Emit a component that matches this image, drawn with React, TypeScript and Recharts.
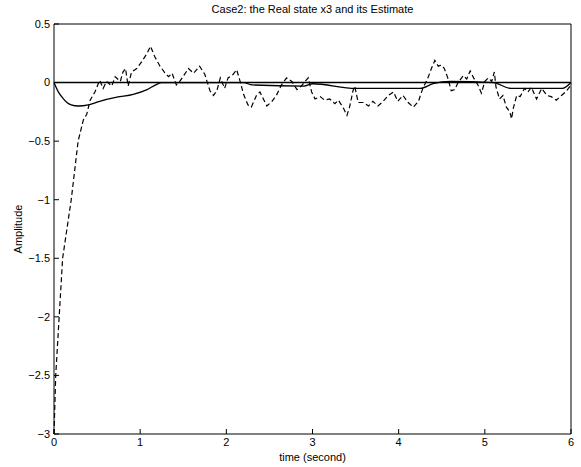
import { LineChart, Line, XAxis, YAxis, ReferenceLine } from 'recharts';

// estimate of x3 (dashed, noisy)
const estTime = [
  0, 0.02, 0.06, 0.1, 0.2, 0.28, 0.34, 0.38, 0.42, 0.475, 0.53, 0.57, 0.61, 0.67, 0.71, 0.77,
  0.8, 0.83, 0.86, 0.9, 0.96, 1.02, 1.08, 1.12, 1.17, 1.23, 1.29, 1.33, 1.37, 1.42, 1.46,
  1.56, 1.62, 1.69, 1.75, 1.81, 1.85, 1.89, 1.93, 1.98, 2.02, 2.08, 2.12, 2.16, 2.2, 2.25,
  2.29, 2.35, 2.39, 2.43, 2.47, 2.53, 2.58, 2.64, 2.7, 2.76, 2.82, 2.87, 2.95, 2.99, 3.03,
  3.09, 3.14, 3.2, 3.26, 3.3, 3.36, 3.4, 3.43, 3.47, 3.49, 3.53, 3.59, 3.65, 3.7, 3.76,
  3.82, 3.88, 3.94, 3.99, 4.05, 4.11, 4.17, 4.23, 4.28, 4.34, 4.38, 4.42, 4.46, 4.5, 4.53,
  4.57, 4.61, 4.65, 4.69, 4.75, 4.79, 4.83, 4.87, 4.92, 4.96, 5.0, 5.04, 5.08, 5.11, 5.13,
  5.17, 5.21, 5.25, 5.29, 5.31, 5.33, 5.37, 5.41, 5.46, 5.5, 5.54, 5.6, 5.66, 5.72, 5.77,
  5.83, 5.89, 5.95, 6.0,
];
const estValue = [
  -3, -2.5, -2.0, -1.5, -1.0, -0.5, -0.32, -0.27, -0.15, -0.08, 0.02, -0.05, 0.01, -0.03, 0.05, 0.01,
  0.09, 0.12, -0.03, 0.09, 0.12, 0.18, 0.25, 0.31, 0.22, 0.14, 0.08, 0.05, 0.08, -0.02, 0.01,
  0.12, 0.08, 0.14, 0.07, -0.07, -0.11, -0.07, 0.04, -0.05, 0.04, 0.07, 0.11, 0.01, -0.1, -0.19,
  -0.21, -0.11, -0.08, -0.14, -0.2, -0.16, -0.11, -0.02, 0.04, 0.01, -0.06, -0.03, 0.04, -0.08, -0.14,
  -0.12, -0.15, -0.14, -0.18, -0.15, -0.22, -0.28, -0.21, -0.07, -0.03, -0.17, -0.17, -0.2, -0.16, -0.2,
  -0.16, -0.11, -0.08, -0.16, -0.11, -0.17, -0.21, -0.16, -0.05, 0.04, 0.12, 0.19, 0.14, 0.15, 0.12,
  0.04, -0.07, -0.06, 0, 0.06, 0.03, 0.1, 0.04, -0.02, -0.09, 0.01, 0.04, 0.01, 0.09, -0.04,
  -0.14, -0.11, -0.21, -0.25, -0.31, -0.22, -0.11, -0.12, -0.05, -0.08, -0.04, -0.14, -0.05, -0.11, -0.12,
  -0.15, -0.11, -0.07, -0.02,
];

// real state x3 (solid, smooth)
const realTime = [
  0, 0.05, 0.1, 0.15, 0.2, 0.28, 0.4, 0.53, 0.73, 0.92, 1.08, 1.18, 1.25, 2.2, 2.3, 2.9, 3.0,
  3.5, 4.25, 4.4, 4.6, 5.1, 5.3, 5.9, 6.0,
];
const realValue = [
  0, -0.08, -0.13, -0.17, -0.19, -0.2, -0.19, -0.16, -0.125, -0.1, -0.06, -0.02, 0, 0, -0.02, -0.03, -0.01,
  -0.05, -0.05, -0.01, 0.01, 0, -0.05, -0.05, 0,
];

const xTicks = [0, 1, 2, 3, 4, 5, 6];
const yTicks = [-3, -2.5, -2, -1.5, -1, -0.5, 0, 0.5];

const estData = estTime.map((t, i) => ({ t, v: estValue[i] }));
const realData = realTime.map((t, i) => ({ t, v: realValue[i] }));

const FONT = '"Liberation Sans", Arial, sans-serif';
const tickStyle = { fontSize: 11, fill: '#000', fontFamily: FONT };
const fmt = (v: number) => String(v).replace('-', '\u2212');

export default function App() {
  return (
    <div style={{ position: 'relative', width: 581, height: 467, fontFamily: FONT, background: '#fff' }}>
      <style>{'body { margin: 0; }'}</style>
      <LineChart width={581} height={467} margin={{ top: 23, right: 9, bottom: 13, left: 14 }}>
        <XAxis
          xAxisId="b"
          type="number"
          dataKey="t"
          domain={[0, 6]}
          ticks={xTicks}
          height={20}
          stroke="#000"
          tick={tickStyle}
          tickSize={-5}
          tickMargin={9}
        />
        <XAxis
          xAxisId="top"
          orientation="top"
          type="number"
          dataKey="t"
          domain={[0, 6]}
          ticks={xTicks}
          height={1}
          stroke="#000"
          tickSize={-5}
          tickFormatter={() => ''}
        />
        <YAxis
          yAxisId="l"
          type="number"
          domain={[-3, 0.5]}
          ticks={yTicks}
          width={40}
          stroke="#000"
          tick={tickStyle}
          tickSize={-5}
          tickMargin={9}
          tickFormatter={fmt}
        />
        <YAxis
          yAxisId="r"
          orientation="right"
          type="number"
          domain={[-3, 0.5]}
          ticks={yTicks}
          width={1}
          stroke="#000"
          tickSize={-5}
          tickFormatter={() => ''}
        />
        <ReferenceLine xAxisId="b" yAxisId="l" y={0} stroke="#000" strokeWidth={1.5} />
        <Line
          xAxisId="b"
          yAxisId="l"
          data={realData}
          dataKey="v"
          type="monotone"
          stroke="#000"
          strokeWidth={1.3}
          dot={false}
          isAnimationActive={false}
        />
        <Line
          xAxisId="b"
          yAxisId="l"
          data={estData}
          dataKey="v"
          type="linear"
          stroke="#000"
          strokeWidth={1.2}
          strokeDasharray="5 3"
          dot={false}
          isAnimationActive={false}
        />
      </LineChart>
      <div
        style={{
          position: 'absolute',
          top: 3,
          left: 54,
          width: 517,
          textAlign: 'center',
          fontSize: 11,
        }}
      >
        Case2: the Real state x3 and its Estimate
      </div>
      <div
        style={{
          position: 'absolute',
          top: 451,
          left: 54,
          width: 517,
          textAlign: 'center',
          fontSize: 11,
        }}
      >
        time (second)
      </div>
      <div
        style={{
          position: 'absolute',
          left: 18,
          top: 229,
          fontSize: 11,
          transform: 'translate(-50%, -50%) rotate(-90deg)',
          whiteSpace: 'nowrap',
        }}
      >
        Amplitude
      </div>
    </div>
  );
}
